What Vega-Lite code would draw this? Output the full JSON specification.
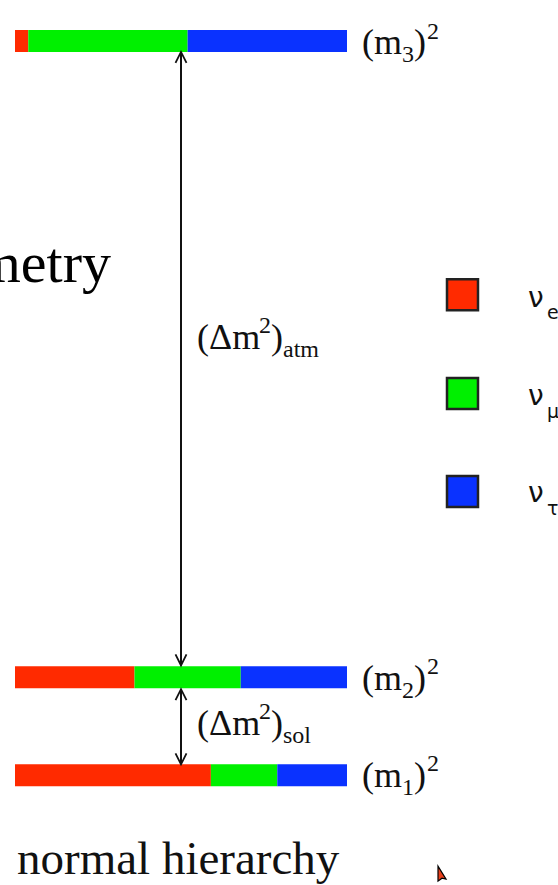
{
  "$schema": "https://vega.github.io/schema/vega-lite/v6.json",
  "width": 558,
  "height": 885,
  "autosize": {"type": "none"},
  "padding": 0,
  "background": "white",
  "config": {"view": {"stroke": null}},
  "datasets": {
    "bars": [
      {"level": "m3", "lev": 7.5, "flavor": "e", "frac": 0.04},
      {"level": "m3", "lev": 7.5, "flavor": "mu", "frac": 0.48},
      {"level": "m3", "lev": 7.5, "flavor": "tau", "frac": 0.48},
      {"level": "m2", "lev": 1.0, "flavor": "e", "frac": 0.36},
      {"level": "m2", "lev": 1.0, "flavor": "mu", "frac": 0.32},
      {"level": "m2", "lev": 1.0, "flavor": "tau", "frac": 0.32},
      {"level": "m1", "lev": 0.0, "flavor": "e", "frac": 0.59},
      {"level": "m1", "lev": 0.0, "flavor": "mu", "frac": 0.20},
      {"level": "m1", "lev": 0.0, "flavor": "tau", "frac": 0.21}
    ],
    "arrows": [
      {"gap": "atm", "x": 0.5, "y1": 7.389, "y2": 1.1212},
      {"gap": "sol", "x": 0.5, "y1": 0.8788, "y2": 0.1111}
    ],
    "heads": [
      {"x": 0.5, "y": 7.389, "dir": "up"},
      {"x": 0.5, "y": 1.1212, "dir": "down"},
      {"x": 0.5, "y": 0.8788, "dir": "up"},
      {"x": 0.5, "y": 0.1111, "dir": "down"}
    ],
    "legend": [
      {"flavor": "e", "x": 1.34789, "y": 4.90909},
      {"flavor": "mu", "x": 1.34789, "y": 3.89899},
      {"flavor": "tau", "x": 1.34789, "y": 2.89899}
    ],
    "cursor": [{"x": 1.2741, "y": -0.92929}],
    "labels": [
      {"role": "main", "t": "(m", "x": 1.04518, "y": 7.36364},
      {"role": "main", "t": ")", "x": 1.20181, "y": 7.36364},
      {"role": "main", "t": "(m", "x": 1.04518, "y": 0.86869},
      {"role": "main", "t": ")", "x": 1.20181, "y": 0.86869},
      {"role": "main", "t": "(m", "x": 1.04518, "y": -0.12121},
      {"role": "main", "t": ")", "x": 1.20181, "y": -0.12121},
      {"role": "main", "t": "(Δm", "x": 0.54819, "y": 4.35354},
      {"role": "main", "t": ")", "x": 0.77108, "y": 4.35354},
      {"role": "main", "t": "(Δm", "x": 0.54819, "y": 0.41414},
      {"role": "main", "t": ")", "x": 0.77108, "y": 0.41414},
      {"role": "small", "t": "3", "x": 1.16566, "y": 7.28283},
      {"role": "small", "t": "2", "x": 1.24096, "y": 7.52525},
      {"role": "small", "t": "2", "x": 1.16566, "y": 0.78788},
      {"role": "small", "t": "2", "x": 1.24096, "y": 1.0303},
      {"role": "small", "t": "1", "x": 1.16566, "y": -0.20202},
      {"role": "small", "t": "2", "x": 1.24096, "y": 0.0404},
      {"role": "small", "t": "2", "x": 0.73494, "y": 4.51515},
      {"role": "small", "t": "atm", "x": 0.80723, "y": 4.27273},
      {"role": "small", "t": "2", "x": 0.73494, "y": 0.57576},
      {"role": "small", "t": "sol", "x": 0.80723, "y": 0.33333},
      {"role": "big", "t": "metry", "x": 0.28916, "y": 5.0404},
      {"role": "title", "t": "normal hierarchy", "x": 0.00602, "y": -1.0101},
      {"role": "nu", "t": "ν", "x": 1.54518, "y": 4.78788},
      {"role": "nu", "t": "ν", "x": 1.54518, "y": 3.77778},
      {"role": "nu", "t": "ν", "x": 1.54518, "y": 2.78788},
      {"role": "nusub", "t": "e", "x": 1.60241, "y": 4.65657},
      {"role": "nusub", "t": "μ", "x": 1.60241, "y": 3.64646},
      {"role": "nusub", "t": "τ", "x": 1.60241, "y": 2.65657}
    ]
  },
  "layer": [
    {
      "data": {"name": "bars"},
      "transform": [
        {"stack": "frac", "groupby": ["level"], "sort": [{"field": "flavor", "order": "ascending"}], "as": ["x0", "x1"]}
      ],
      "mark": {"type": "bar", "orient": "horizontal", "height": 22},
      "encoding": {
        "x": {"field": "x0", "type": "quantitative", "axis": null, "scale": {"domain": [-0.045181, 1.635542], "nice": false, "zero": false}},
        "x2": {"field": "x1"},
        "y": {"field": "lev", "type": "quantitative", "axis": null, "scale": {"domain": [-1.07071, 7.86869], "nice": false, "zero": false}},
        "color": {"field": "flavor", "type": "nominal", "legend": null, "scale": {"domain": ["e", "mu", "tau"], "range": ["#ff2a00", "#00f000", "#0a32ff"]}}
      }
    },
    {
      "data": {"name": "arrows"},
      "mark": {"type": "rule", "color": "#111111", "strokeWidth": 2},
      "encoding": {
        "x": {"field": "x", "type": "quantitative"},
        "y": {"field": "y1", "type": "quantitative"},
        "y2": {"field": "y2"}
      }
    },
    {
      "data": {"name": "heads"},
      "mark": {"type": "point", "filled": false, "stroke": "#111111", "strokeWidth": 1.8, "size": 484, "opacity": 1},
      "encoding": {
        "x": {"field": "x", "type": "quantitative"},
        "y": {"field": "y", "type": "quantitative"},
        "shape": {"field": "dir", "type": "nominal", "legend": null, "scale": {"domain": ["up", "down"], "range": ["M-0.5,1L0,0L0.5,1", "M-0.5,-1L0,0L0.5,-1"]}}
      }
    },
    {
      "data": {"name": "legend"},
      "mark": {"type": "point", "shape": "square", "filled": true, "size": 961, "stroke": "#222222", "strokeWidth": 2.5, "opacity": 1},
      "encoding": {
        "x": {"field": "x", "type": "quantitative"},
        "y": {"field": "y", "type": "quantitative"},
        "fill": {"field": "flavor", "type": "nominal", "legend": null, "scale": {"domain": ["e", "mu", "tau"], "range": ["#ff2a00", "#00f000", "#0a32ff"]}}
      }
    },
    {
      "data": {"name": "cursor"},
      "mark": {"type": "point", "shape": "M0,0L0,3L0.8,2.4L1.6,2.6Z", "size": 100, "filled": true, "fill": "#e8401c", "stroke": "#000000", "strokeWidth": 1.2, "opacity": 1},
      "encoding": {
        "x": {"field": "x", "type": "quantitative"},
        "y": {"field": "y", "type": "quantitative"}
      }
    },
    {
      "data": {"name": "labels"},
      "transform": [{"filter": "datum.role === 'main'"}],
      "mark": {"type": "text", "font": "Liberation Serif", "fontSize": 36, "align": "left", "baseline": "alphabetic", "color": "#111111"},
      "encoding": {
        "x": {"field": "x", "type": "quantitative"},
        "y": {"field": "y", "type": "quantitative"},
        "text": {"field": "t"}
      }
    },
    {
      "data": {"name": "labels"},
      "transform": [{"filter": "datum.role === 'small'"}],
      "mark": {"type": "text", "font": "Liberation Serif", "fontSize": 24, "align": "left", "baseline": "alphabetic", "color": "#111111"},
      "encoding": {
        "x": {"field": "x", "type": "quantitative"},
        "y": {"field": "y", "type": "quantitative"},
        "text": {"field": "t"}
      }
    },
    {
      "data": {"name": "labels"},
      "transform": [{"filter": "datum.role === 'big'"}],
      "mark": {"type": "text", "font": "Liberation Serif", "fontSize": 58, "align": "right", "baseline": "alphabetic", "color": "#000000"},
      "encoding": {
        "x": {"field": "x", "type": "quantitative"},
        "y": {"field": "y", "type": "quantitative"},
        "text": {"field": "t"}
      }
    },
    {
      "data": {"name": "labels"},
      "transform": [{"filter": "datum.role === 'title'"}],
      "mark": {"type": "text", "font": "Liberation Serif", "fontSize": 47, "align": "left", "baseline": "alphabetic", "color": "#111111"},
      "encoding": {
        "x": {"field": "x", "type": "quantitative"},
        "y": {"field": "y", "type": "quantitative"},
        "text": {"field": "t"}
      }
    },
    {
      "data": {"name": "labels"},
      "transform": [{"filter": "datum.role === 'nu'"}],
      "mark": {"type": "text", "font": "DejaVu Sans", "fontSize": 28, "align": "left", "baseline": "alphabetic", "color": "#111111"},
      "encoding": {
        "x": {"field": "x", "type": "quantitative"},
        "y": {"field": "y", "type": "quantitative"},
        "text": {"field": "t"}
      }
    },
    {
      "data": {"name": "labels"},
      "transform": [{"filter": "datum.role === 'nusub'"}],
      "mark": {"type": "text", "font": "DejaVu Sans", "fontSize": 19, "align": "left", "baseline": "alphabetic", "color": "#111111"},
      "encoding": {
        "x": {"field": "x", "type": "quantitative"},
        "y": {"field": "y", "type": "quantitative"},
        "text": {"field": "t"}
      }
    }
  ]
}
